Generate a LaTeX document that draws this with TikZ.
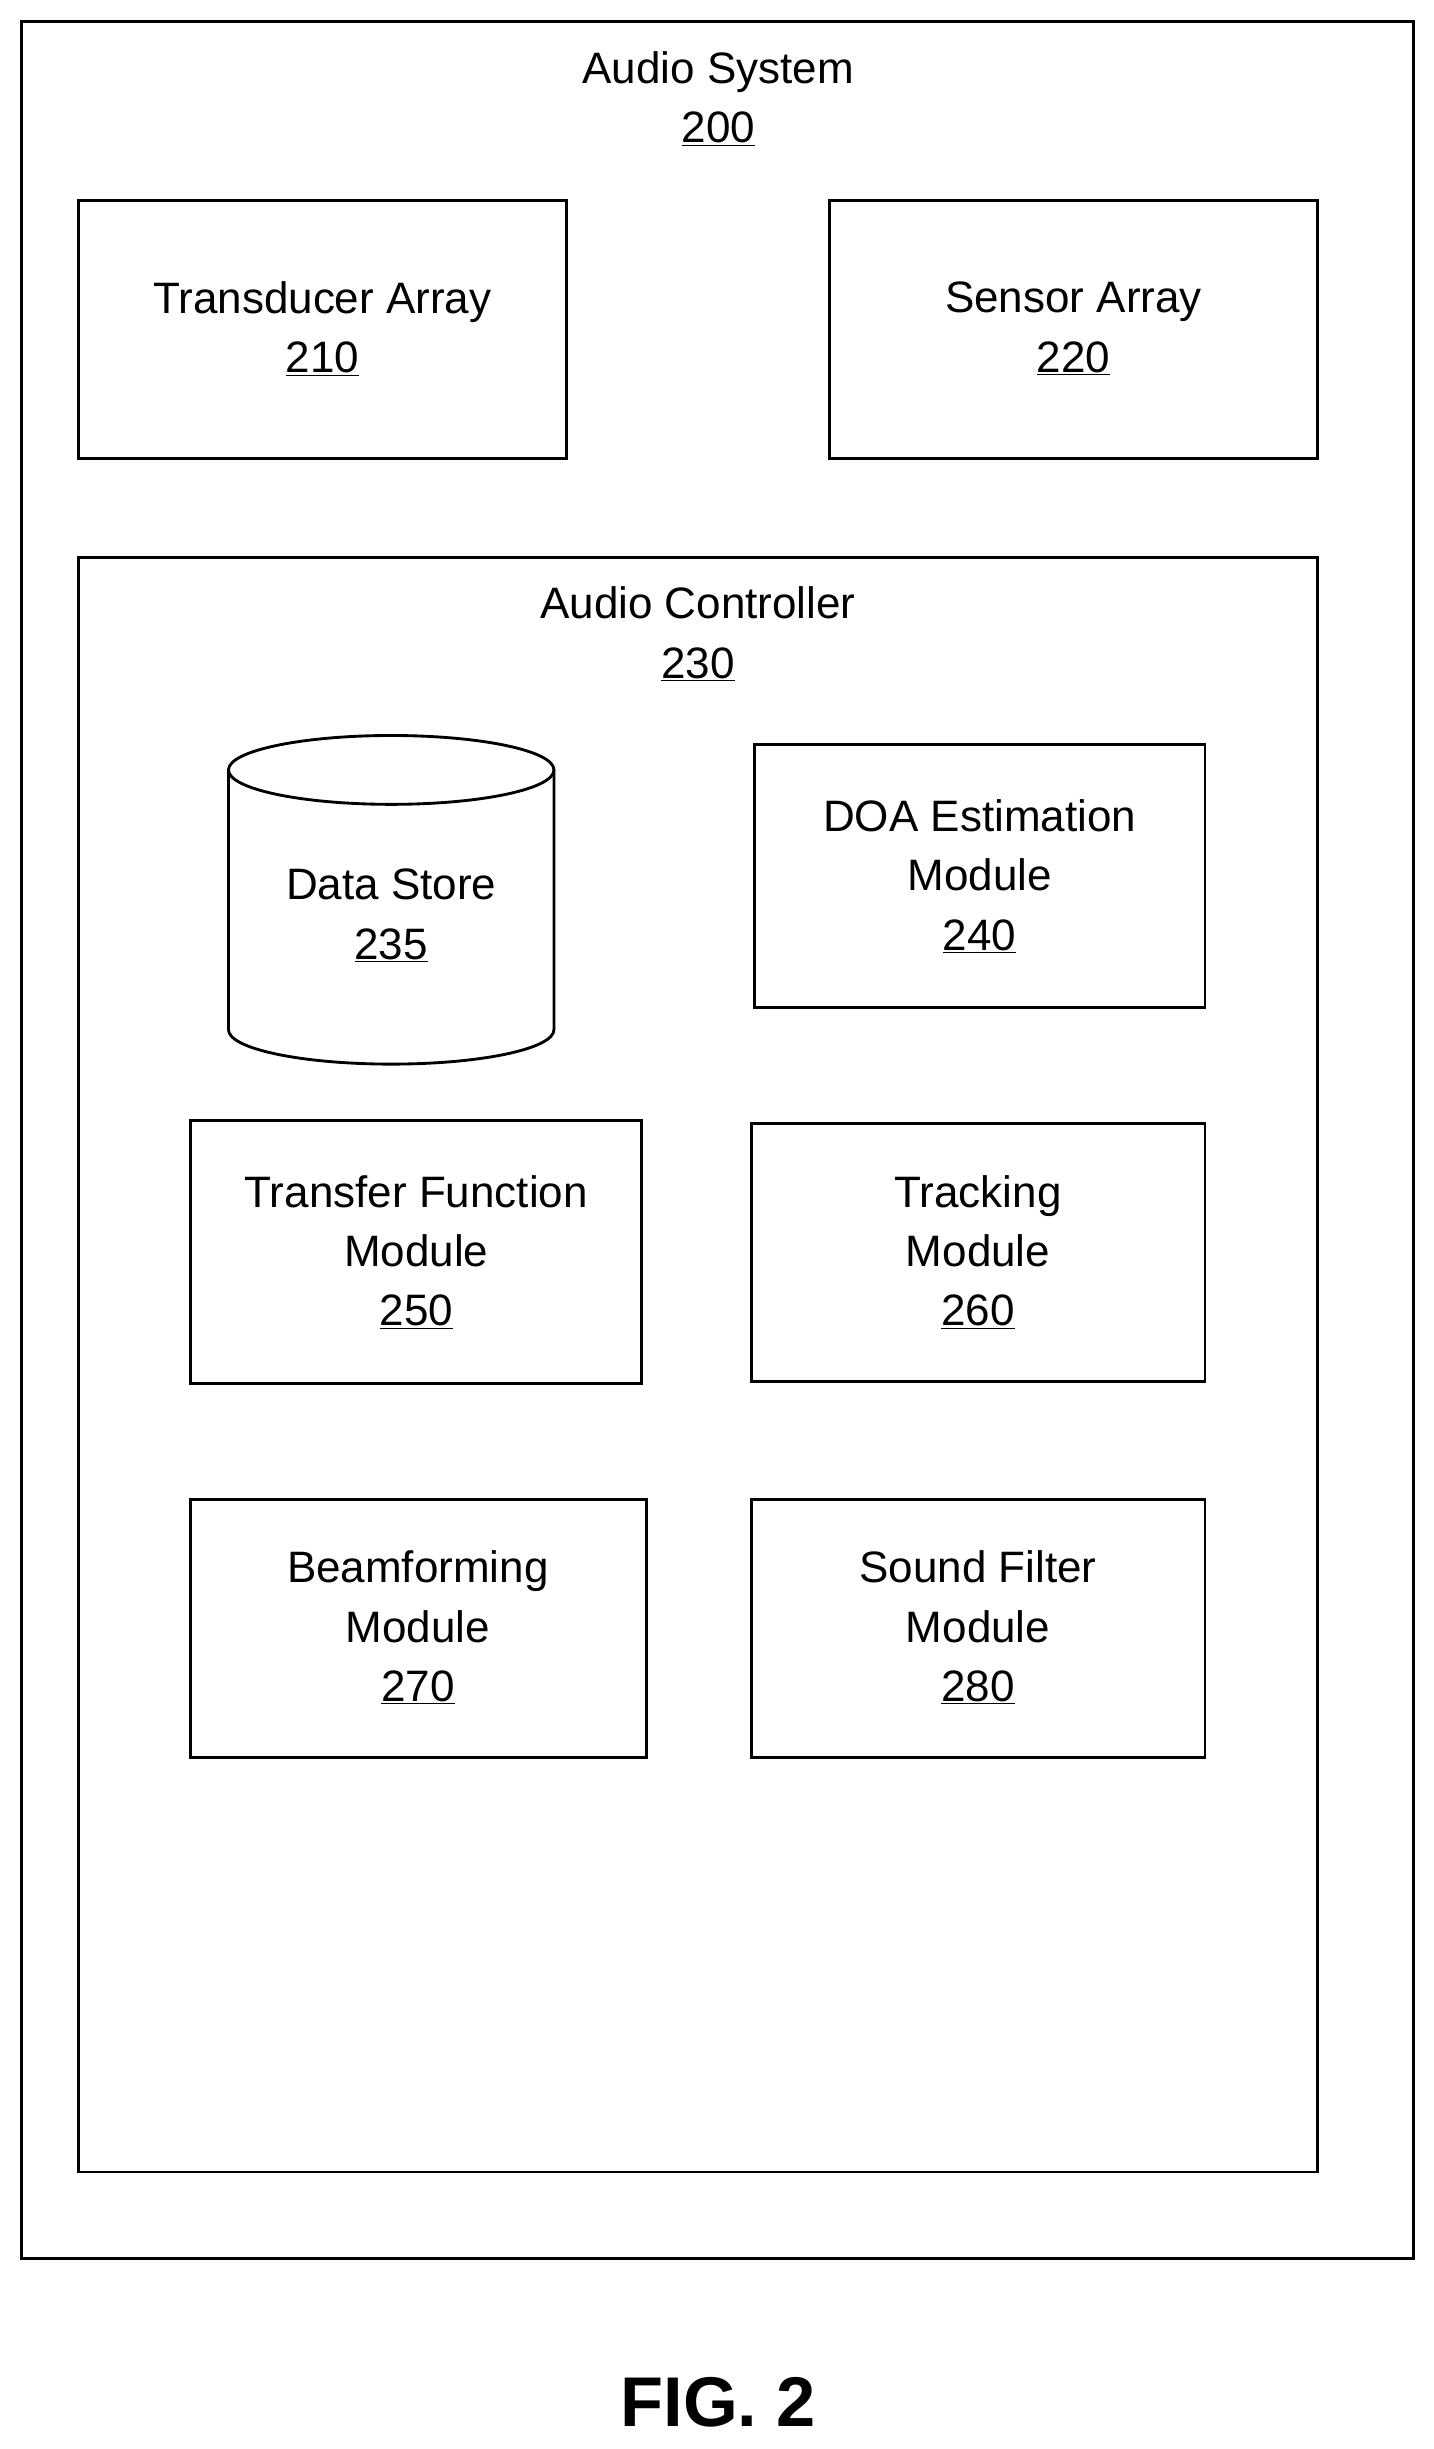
\documentclass[tikz,border=0pt]{standalone}
\usepackage{fontspec}
\setmainfont{Liberation Sans}
\usetikzlibrary{positioning}
\tikzset{
  blk/.style={draw,line width=2.6pt,minimum width=#1},
  lbl/.style={align=center,font=\fontsize{40}{54}\selectfont},
}
\begin{document}
\begin{tikzpicture}[x=0.05cm,y=-0.05cm,line join=miter]
\useasboundingbox (0,0) rectangle (916,1565);
% outer frame
\draw [line width=2.6pt] (14,14) rectangle (903,1443);
\node [lbl] (sys) at (459,63) {Audio System\\\underline{200}};
% arrays
\draw [line width=2.6pt] (50,128) rectangle (362,293);
\node [lbl] (ta) at (206,210) {Transducer Array\\\underline{210}};
\draw [line width=2.6pt] (530,128) rectangle (842,293);
\node [lbl] (sa) at (686,210) {Sensor Array\\\underline{220}};
% controller
\draw [line width=2.6pt] (50,356) rectangle (842,1388);
\node [lbl] (ac) at (446,405) {Audio Controller\\\underline{230}};
% data store
\draw [line width=2.6pt] (146,492) -- (146,658) arc[start angle=180,end angle=360,x radius=104,y radius=-22] -- (354,492);
\draw [line width=2.6pt] (250,492) ellipse [x radius=104,y radius=22];
\node [lbl] (ds) at (250,585) {Data Store\\\underline{235}};
% modules
\draw [line width=2.6pt] (482,476) rectangle (770,644);
\node [lbl] (doa) at (626,560) {DOA Estimation\\Module\\\underline{240}};
\draw [line width=2.6pt] (122,716) rectangle (410,884);
\node [lbl] (tf) at (266,800) {Transfer Function\\Module\\\underline{250}};
\draw [line width=2.6pt] (480,718) rectangle (770,883);
\node [lbl] (tr) at (625,800) {Tracking\\Module\\\underline{260}};
\draw [line width=2.6pt] (122,958) rectangle (413,1123);
\node [lbl] (bf) at (267,1040) {Beamforming\\Module\\\underline{270}};
\draw [line width=2.6pt] (480,958) rectangle (770,1123);
\node [lbl] (sf) at (625,1040) {Sound Filter\\Module\\\underline{280}};
% caption
\node [font=\fontsize{64}{70}\selectfont\bfseries] (fig) at (459,1535) {FIG. 2};
\end{tikzpicture}
\end{document}
